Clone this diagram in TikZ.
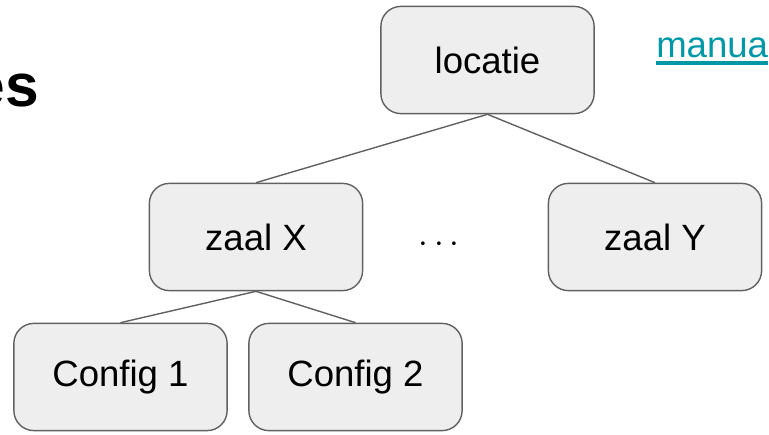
\documentclass[tikz,border=0pt]{standalone}
\usepackage{fontspec}
\setmainfont{Liberation Sans}
\usepackage{xcolor}
\usetikzlibrary{calc}
\definecolor{boxfill}{HTML}{EEEEEE}
\definecolor{boxline}{HTML}{616161}
\definecolor{linkteal}{HTML}{0097A7}
\begin{document}
\begin{tikzpicture}[x=0.025cm,y=-0.025cm,
		box/.style={draw=boxline,fill=boxfill,line width=1pt,rounded corners=0.5cm,
			minimum width=5.33cm,minimum height=2.68cm,inner sep=0pt,
			font=\fontsize{26}{31}\selectfont},
		branch/.style={draw=boxline,line width=1pt}]
	\useasboundingbox (0,0) rectangle (769,434);
	\node[box] (locatie) at (487.5,60) {locatie};
	\node[box] (zaalx) at (256,237) {zaal X};
	\node[box] (zaaly) at (655,237) {zaal Y};
	\node[font=\fontsize{23}{28}\selectfont] (dots) at (439,245) {$\cdots$};
	\node[box] (configa) at (120.5,377) {Config 1};
	\node[box] (configb) at (355.5,377) {Config 2};
	\draw[branch] (locatie.south) -- (zaalx.north);
	\draw[branch] (locatie.south) -- (zaaly.north);
	\draw[branch] (zaalx.south) -- (configa.north);
	\draw[branch] (zaalx.south) -- (configb.north);
	\node[anchor=base east,inner sep=0pt,font=\fontsize{43}{50}\selectfont\bfseries] (title) at (39,106) {es};
	\node[anchor=base west,inner sep=0pt,text=linkteal,font=\fontsize{26}{31}\selectfont] (manua) at (656,57) {manua};
	\draw[linkteal,line width=2.2pt] ($(manua.base west)+(0,6)$) -- ($(manua.base east)+(0,6)$);
\end{tikzpicture}
\end{document}
